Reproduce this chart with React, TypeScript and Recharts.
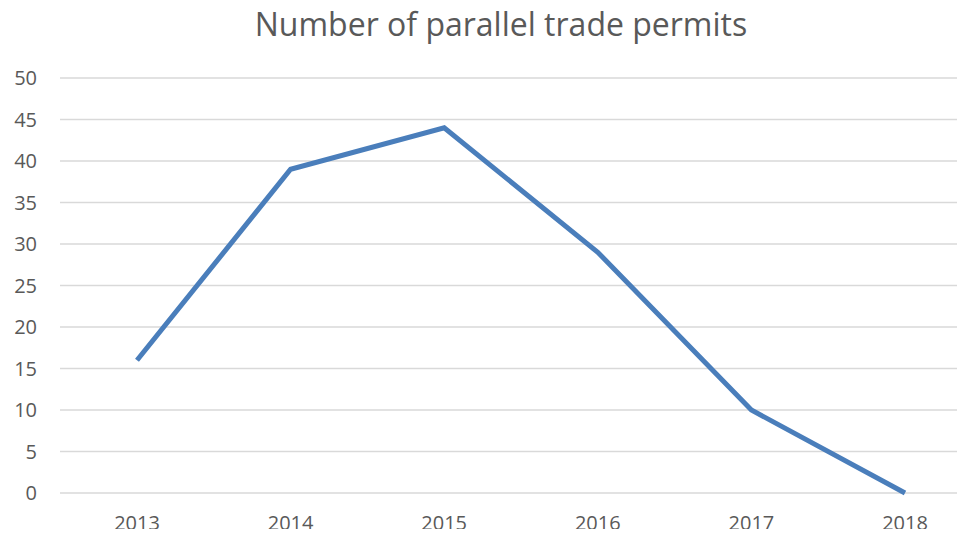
import { LineChart, Line, XAxis, YAxis, CartesianGrid } from 'recharts'

const years = ['2013', '2014', '2015', '2016', '2017', '2018']
const permits = [16, 39, 44, 29, 10, 0]
const yTicks = [0, 5, 10, 15, 20, 25, 30, 35, 40, 45, 50]

const chartData = years.map((year, i) => ({ year, permits: permits[i] }))

const font = '"Open Sans", sans-serif'

export default function App() {
  return (
    <div style={{ margin: -8, width: 965, height: 537, overflow: 'hidden', position: 'relative', background: '#fff' }}>
      <div
        style={{
          position: 'absolute',
          top: 0,
          left: 0,
          width: 1002,
          textAlign: 'center',
          fontFamily: font,
          fontSize: 32,
          lineHeight: '48px',
          color: '#595959',
        }}
      >
        Number of parallel trade permits
      </div>
      <LineChart width={1000} height={537} data={chartData} margin={{ top: 78, right: 18, bottom: 0, left: 0 }}>
        <CartesianGrid vertical={false} stroke="#d9d9d9" strokeWidth={1.5} />
        <XAxis
          dataKey="year"
          axisLine={false}
          tickLine={false}
          height={44}
          tickMargin={17}
          padding={{ left: 77, right: 77 }}
          tick={{ fill: '#595959', fontSize: 20, fontFamily: font }}
        />
        <YAxis
          domain={[0, 50]}
          ticks={yTicks}
          width={60}
          axisLine={false}
          tickLine={false}
          tickMargin={17}
          tick={{ fill: '#595959', fontSize: 20, fontFamily: font }}
        />
        <Line
          type="linear"
          dataKey="permits"
          stroke="#4a7ebb"
          strokeWidth={5}
          dot={false}
          isAnimationActive={false}
        />
      </LineChart>
    </div>
  )
}
